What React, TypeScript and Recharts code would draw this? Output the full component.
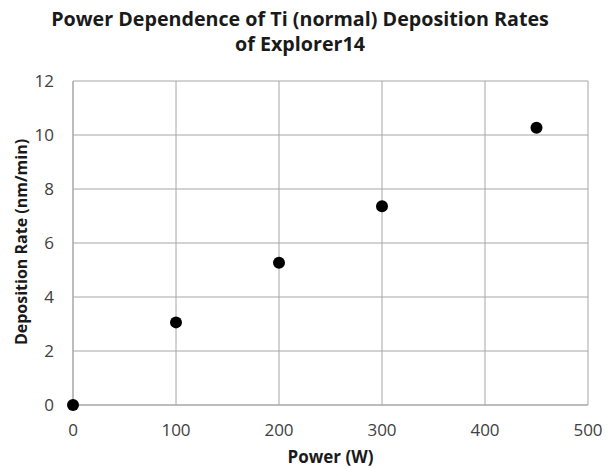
import { ScatterChart, Scatter, XAxis, YAxis, CartesianGrid, Label } from "recharts";

const powerW = [0, 100, 200, 300, 450];
const rateNmMin = [0, 3.06, 5.27, 7.36, 10.27];
const xTicks = [0, 100, 200, 300, 400, 500];
const yTicks = [0, 2, 4, 6, 8, 10, 12];

const points = powerW.map((p, i) => ({ power: p, rate: rateNmMin[i] }));

const font = "'Open Sans', 'Noto Sans', sans-serif";

function YTitle(props: any) {
  const vb = props.viewBox;
  const x = vb.x - 10;
  const y = vb.y + vb.height / 2 - 1;
  return (
    <text
      x={x}
      y={y}
      transform={`rotate(-90, ${x}, ${y})`}
      textAnchor="middle"
      dominantBaseline="central"
      style={{ fontWeight: 700, fontSize: 16, fill: "#1a1a1a", fontFamily: font }}
    >
      Deposition Rate (nm/min)
    </text>
  );
}

export default function App() {
  return (
    <div style={{ position: "absolute", left: 0, top: 0, width: 612, height: 469, background: "#fff", fontFamily: font }}>
      <div
        style={{
          position: "absolute",
          left: 0,
          width: 600,
          top: 6,
          textAlign: "center",
          fontWeight: 700,
          fontSize: 19.7,
          lineHeight: "25px",
          color: "#1a1a1a",
        }}
      >
        Power Dependence of Ti (normal) Deposition Rates
        <br />
        of Explorer14
      </div>
      <ScatterChart width={612} height={469} margin={{ top: 81, right: 24, bottom: 8, left: 31 }}>
        <CartesianGrid stroke="#a6a6a6" strokeWidth={1} />
        <XAxis
          type="number"
          dataKey="power"
          domain={[0, 500]}
          ticks={xTicks}
          tickLine={false}
          axisLine={{ stroke: "#a6a6a6" }}
          tick={{ fill: "#404040", fontSize: 17, fontFamily: font }}
          tickMargin={13}
          height={56}
        >
          <Label value="Power (W)" position="insideBottom" offset={-2} style={{ fontWeight: 700, fontSize: 17, fill: "#1a1a1a", fontFamily: font }} />
        </XAxis>
        <YAxis
          type="number"
          dataKey="rate"
          domain={[0, 12]}
          ticks={yTicks}
          tickLine={false}
          axisLine={{ stroke: "#a6a6a6" }}
          tick={{ fill: "#404040", fontSize: 17, fontFamily: font }}
          tickMargin={13}
          width={42}
        >
          <Label content={<YTitle />} />
        </YAxis>
        <Scatter data={points} fill="#000" isAnimationActive={false} shape={(props: any) => <circle cx={props.cx} cy={props.cy} r={6} fill="#000" />} />
      </ScatterChart>
    </div>
  );
}
